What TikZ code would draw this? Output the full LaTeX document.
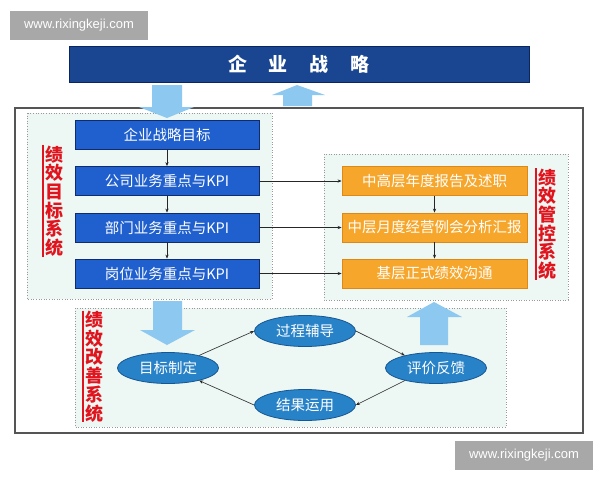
\documentclass[tikz,border=0pt]{standalone}
\usepackage{fontspec}
\setmainfont{Noto Sans CJK SC}
\newfontfamily\wmfont{Liberation Sans}
\usetikzlibrary{shapes.geometric,arrows.meta}
\definecolor{navy}{RGB}{26,70,145}
\definecolor{navyb}{RGB}{12,36,95}
\definecolor{bbox}{RGB}{32,96,206}
\definecolor{bboxb}{RGB}{14,44,110}
\definecolor{orng}{RGB}{246,166,42}
\definecolor{orngb}{RGB}{222,136,22}
\definecolor{ell}{RGB}{40,130,200}
\definecolor{ellb}{RGB}{22,86,146}
\definecolor{lblue}{RGB}{140,200,240}
\definecolor{mint}{RGB}{237,247,243}
\definecolor{wmgray}{RGB}{168,168,168}
\definecolor{redlab}{RGB}{225,20,30}
\definecolor{frame}{RGB}{85,85,85}
\tikzset{
  wmbox/.style={fill=wmgray, text=white, font=\wmfont\fontsize{13}{13}\selectfont, minimum width=138, minimum height=29, inner sep=0},
  bluebox/.style={fill=bbox, draw=bboxb, line width=0.8pt, text=white, font=\fontsize{14.5}{15}\selectfont, minimum width=184, minimum height=29, inner sep=0},
  orangebox/.style={fill=orng, draw=orngb, line width=0.8pt, text=white, font=\fontsize{14.5}{15}\selectfont, minimum width=185, minimum height=29, inner sep=0},
  ellnode/.style={ellipse, fill=ell, draw=ellb, line width=0.8pt, text=white, font=\fontsize{14.5}{15}\selectfont, minimum width=101, minimum height=31, inner sep=0},
  region/.style={fill=mint, draw=gray!80, dotted, line width=0.6pt},
  redlabel/.style={text=redlab, font=\bfseries\fontsize{18}{18.7}\selectfont, align=center, inner sep=0},
  redbar/.style={draw=redlab, line width=1.6pt},
  conn/.style={draw=black!85, line width=0.6pt, -{Stealth[length=4pt,width=3.2pt]}},
  fatarrow/.style={fill=lblue}
}
\begin{document}
\begin{tikzpicture}[x=1pt,y=-1pt]
\useasboundingbox (0,0) rectangle (600,480);
\fill[white] (0,0) rectangle (600,480);

% watermark boxes
\node[wmbox] (wm1) at (79,25.5) {www.rixingkeji.com};
\node[wmbox] (wm2) at (524,455) {www.rixingkeji.com};

% top bar
\node[fill=navy, draw=navyb, line width=0.8pt, text=white, font=\bfseries\fontsize{19}{19}\selectfont, minimum width=460, minimum height=36, inner sep=0] (top) at (299,64) {企\hspace{22pt}业\hspace{22pt}战\hspace{22pt}略};

% outer frame
\draw[draw=frame, line width=1.2pt] (15,108) rectangle (583,433);

% regions
\path[region] (27,113) rectangle (272,299);
\path[region] (324,154) rectangle (568,300);
\path[region] (75,308) rectangle (506,427);

% fat arrows
\fill[fatarrow] (152,85) -- (182,85) -- (182,107) -- (194,107) -- (167,118) -- (139,107) -- (152,107) -- cycle;
\fill[fatarrow] (283,106) -- (312,106) -- (312,95) -- (325,95) -- (297,85) -- (272,95) -- (283,95) -- cycle;
\fill[fatarrow] (153,301) -- (182,301) -- (182,330) -- (195,330) -- (167,345) -- (140,330) -- (153,330) -- cycle;
\fill[fatarrow] (420,345) -- (448,345) -- (448,317) -- (462,317) -- (434,302) -- (407,317) -- (420,317) -- cycle;

% blue boxes
\node[bluebox] (b1) at (167,134.5) {企业战略目标};
\node[bluebox] (b2) at (167,181) {公司业务重点与KPI};
\node[bluebox] (b3) at (167,227.5) {部门业务重点与KPI};
\node[bluebox] (b4) at (167,273.5) {岗位业务重点与KPI};

% orange boxes
\node[orangebox] (o1) at (434.5,181) {中高层年度报告及述职};
\node[orangebox] (o2) at (434.5,227.5) {中层月度经营例会分析汇报};
\node[orangebox] (o3) at (434.5,273.5) {基层正式绩效沟通};

% connectors
\draw[conn] (b1) -- (b2);
\draw[conn] (b2) -- (b3);
\draw[conn] (b3) -- (b4);
\draw[conn] (o1) -- (o2);
\draw[conn] (o2) -- (o3);
\draw[conn] (b2) -- (o1);
\draw[conn] (b3) -- (o2);
\draw[conn] (b4) -- (o3);

% ellipses
\node[ellnode] (goal) at (168,368) {目标制定};
\node[ellnode] (proc) at (305,331) {过程辅导};
\node[ellnode] (eval) at (436,368) {评价反馈};
\node[ellnode] (res) at (305,405) {结果运用};
\draw[conn] (goal.22) -- (proc.west);
\draw[conn] (proc.east) -- (eval.158);
\draw[conn] (eval.202) -- (res.east);
\draw[conn] (res.west) -- (goal.-22);

% red labels
\node[redlabel] (l1) at (54,201) {绩\\效\\目\\标\\系\\统};
\draw[redbar] ([xshift=-2pt]l1.north west) -- ([xshift=-2pt]l1.south west);
\node[redlabel] (l2) at (547,224) {绩\\效\\管\\控\\系\\统};
\draw[redbar] ([xshift=-2pt]l2.north west) -- ([xshift=-2pt]l2.south west);
\node[redlabel] (l3) at (94,366.5) {绩\\效\\改\\善\\系\\统};
\draw[redbar] ([xshift=-2pt]l3.north west) -- ([xshift=-2pt]l3.south west);
\end{tikzpicture}
\end{document}
